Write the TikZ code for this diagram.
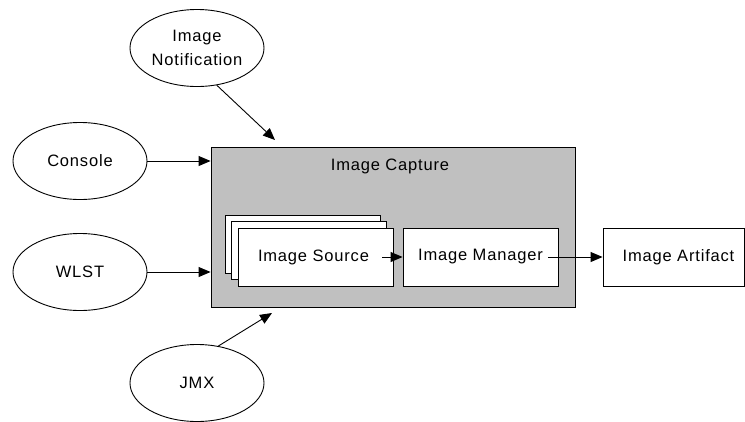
\documentclass[tikz,border=0pt]{standalone}
\usepackage{fontspec}
\setmainfont{Liberation Sans}[LetterSpace=5]
\usetikzlibrary{arrows.meta,shapes.geometric}
\definecolor{capgray}{RGB}{192,192,192}
\begin{document}
\begin{tikzpicture}[x=1pt,y=-1pt,
  every node/.style={font=\fontsize{16.5}{24}\selectfont, inner sep=0pt},
  ell/.style={draw, line width=0.9pt, ellipse, minimum width=134pt, minimum height=77pt, align=center},
  box/.style={draw, line width=0.9pt, fill=white, minimum width=155pt, minimum height=58pt},
  conn/.style={line width=0.9pt, -{Triangle[length=12pt,width=10pt]}}]
\useasboundingbox (0,0) rectangle (745,421);
% ellipses
\node[ell] (notif) at (197,48) {Image\\Notification};
\node[ell] (console) at (80,161) {Console};
\node[ell] (wlst) at (80,272) {WLST};
\node[ell] (jmx) at (197,383) {JMX};
% capture box
\node[draw, line width=0.9pt, fill=capgray, minimum width=364pt, minimum height=160pt] (cap) at (393,227) {};
\node (captitle) at (390,166) {Image Capture};
% stacked sources
\node[box] (src3) at (303,244.5) {};
\node[box] (src2) at (309,250.5) {};
\node[box] (src) at (315.5,257) {\hspace*{-4pt}Image Source};
\node[box] (mgr) at (480.5,257) {Image Manager};
\node[box, minimum width=141pt] (art) at (673.5,257) {\hspace*{10pt}Image Artifact};
% connectors
\coordinate (notifend) at (275,140);
\coordinate (jmxend) at (272,313);
\draw[conn] (notif.-62) -- (notifend);
\draw[conn] (jmx.60) -- (jmxend);
\draw[conn] (console.east) -- (console.east -| cap.west);
\draw[conn] (wlst.east) -- (wlst.east -| cap.west);
\draw[conn] ([xshift=-11pt]src.east) -- (mgr.west);
\draw[conn] ([xshift=-10pt]mgr.east) -- (art.west);
\end{tikzpicture}
\end{document}
